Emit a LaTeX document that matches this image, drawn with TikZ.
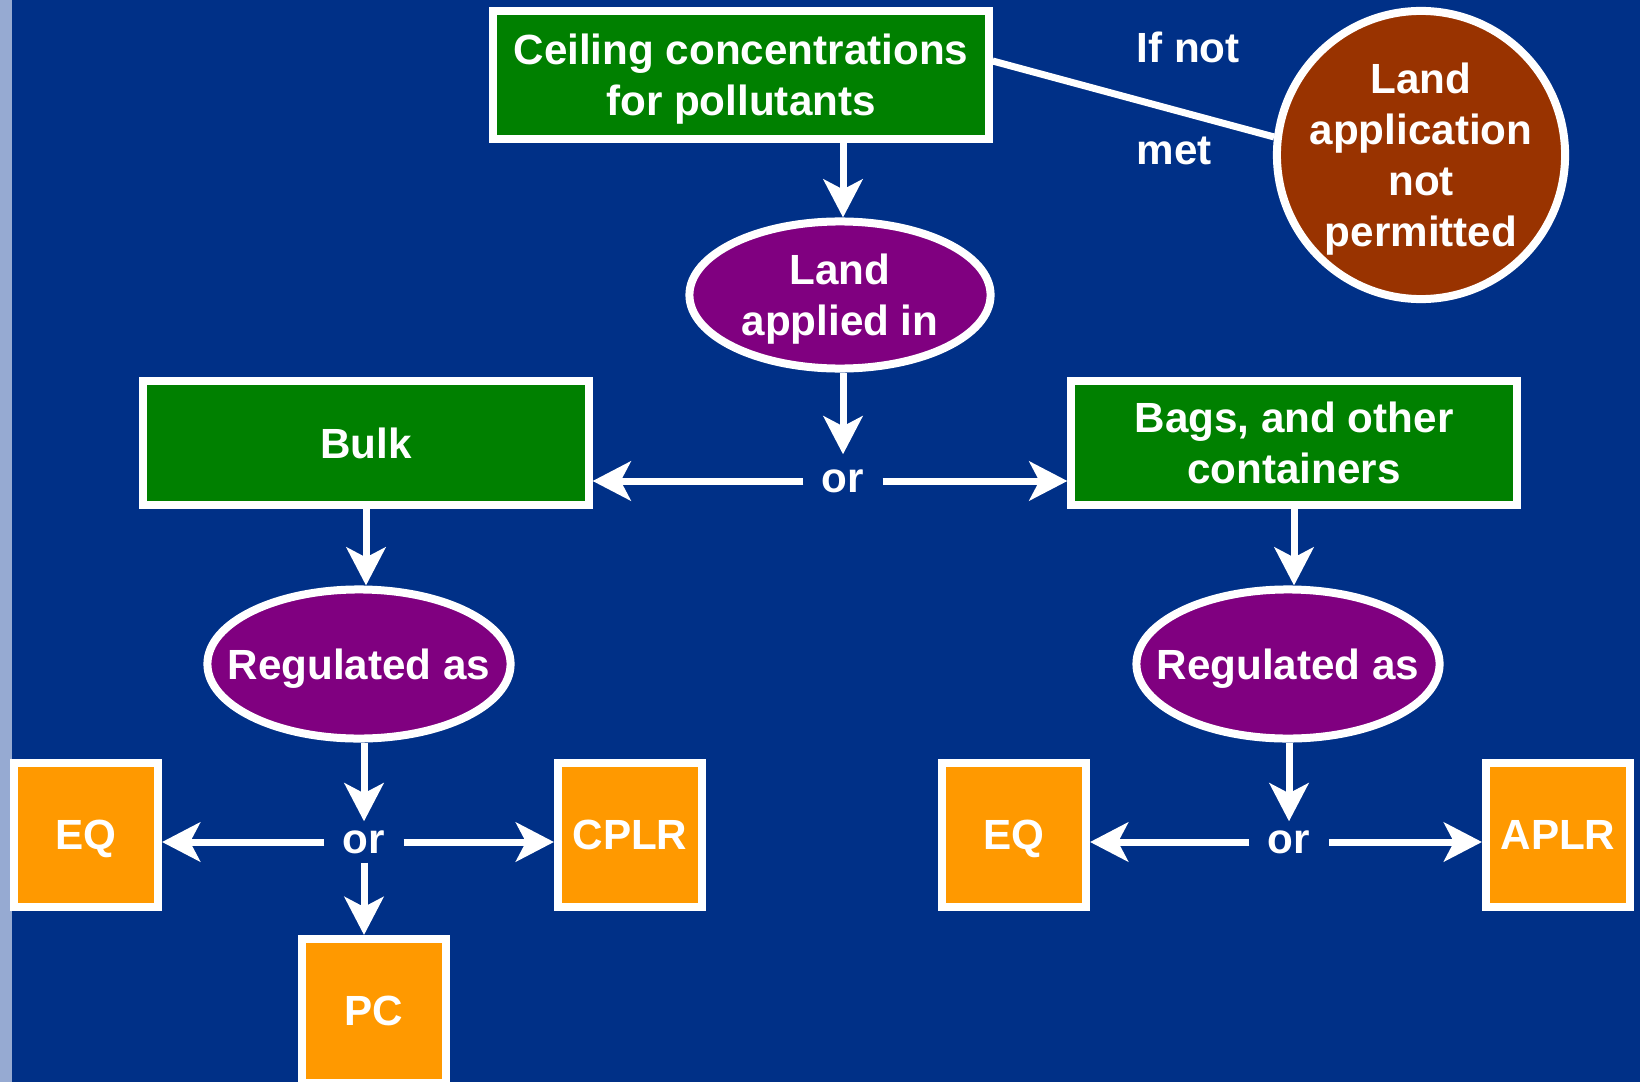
\documentclass[tikz,border=0pt]{standalone}
\usepackage{fontspec}
\setmainfont{Liberation Sans}
\usetikzlibrary{arrows.meta,shapes.geometric}

\definecolor{slide}{RGB}{0,48,135}
\definecolor{strip}{RGB}{150,170,210}
\definecolor{leaf}{RGB}{0,128,0}
\definecolor{plum}{RGB}{128,0,128}
\definecolor{rust}{RGB}{153,51,0}
\definecolor{amber}{RGB}{255,153,0}

\begin{document}
\begin{tikzpicture}[x=0.01cm, y=-0.01cm,
    every node/.style={text=white, font=\fontsize{12}{14.5}\selectfont\bfseries, align=center, inner sep=0pt, text depth=0pt},
    box/.style={rectangle, draw=white, line width=0.08cm, fill=leaf, minimum width=4.45cm, minimum height=1.24cm},
    oval/.style={ellipse, draw=white, line width=0.08cm, fill=plum, minimum width=3.03cm, minimum height=1.49cm},
    sq/.style={rectangle, draw=white, line width=0.08cm, fill=amber, minimum size=1.44cm},
    ornode/.style={minimum width=0.78cm, minimum height=0.4cm},
    arr/.style={-{Stealth[length=0.38cm, width=0.39cm, inset=0.1cm]}, line width=0.07cm, white}]

% Background
\useasboundingbox (0,0) rectangle (1640,1082);
\fill[slide] (0,0) rectangle (1640,1082);
\fill[strip] (0,0) rectangle (12,1082);

% Top row
\node[box, minimum width=4.95cm, minimum height=1.28cm] (ceil) at (741,75) {Ceiling concentrations\\for pollutants};
\node[circle, draw=white, line width=0.08cm, fill=rust, minimum size=2.88cm,
      label={[align=center]center:Land\\application\\not\\permitted}] (noland) at (1421,155) {};
\node[anchor=west] (ifnot) at (1136,47) {If not};
\node[anchor=west] (met) at (1136,151) {met};
\draw[white, line width=0.07cm] ([yshift=0.14cm]ceil.east) -- (noland.173);

% Land applied in
\node[oval, minimum width=3.01cm, minimum height=1.47cm,
      label={[align=center]center:Land\\applied in}] (land) at (840,295) {};
\node[ornode, minimum height=0.52cm] (orM) at (843,481) {or};
\draw[arr] (ceil.south -| orM) -- (land.north -| orM);
\draw[arr] (land.south -| orM) -- (orM);

% Second row
\node[box] (bulk) at (366,443) {Bulk};
\node[box] (bags) at (1294,443) {Bags, and other\\containers};
\draw[arr] (orM) -- (orM -| bulk.east);
\draw[arr] (orM) -- (orM -| bags.west);

% Left branch
\node[oval, label={center:Regulated as}] (regL) at (359,664) {};
\node[ornode] (orL) at (364,842) {or};
\node[sq] (eqL) at (86,835) {EQ};
\node[sq] (cplr) at (630,835) {CPLR};
\node[sq] (pc) at (374,1011) {PC};
\draw[arr] (bulk.south) -- (bulk.south |- regL.north);
\draw[arr] (regL.south -| orL) -- (orL);
\draw[arr] (orL) -- (orL -| eqL.east);
\draw[arr] (orL) -- (orL -| cplr.west);
\draw[arr] (orL) -- (orL |- pc.north);

% Right branch
\node[oval, label={center:Regulated as}] (regR) at (1288,664) {};
\node[ornode] (orR) at (1289,842) {or};
\node[sq] (eqR) at (1014,835) {EQ};
\node[sq] (aplr) at (1558,835) {APLR};
\draw[arr] (bags.south) -- (bags.south |- regR.north);
\draw[arr] (regR.south -| orR) -- (orR);
\draw[arr] (orR) -- (orR -| eqR.east);
\draw[arr] (orR) -- (orR -| aplr.west);

\end{tikzpicture}
\end{document}
